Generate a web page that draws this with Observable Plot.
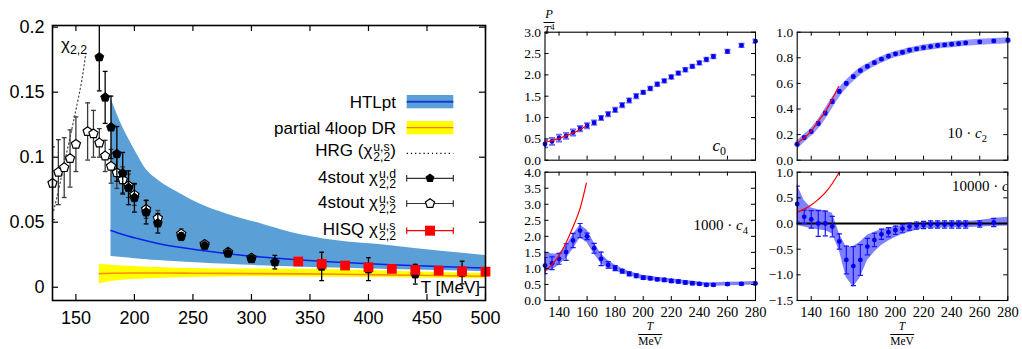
<!DOCTYPE html>
<html><head><meta charset="utf-8">
<script src="https://cdn.jsdelivr.net/npm/d3@7"></script>
<script src="https://cdn.jsdelivr.net/npm/@observablehq/plot@0.6"></script>
<style>
body{margin:0;background:#fff}
#wrap{position:relative;width:1022px;height:349px;overflow:hidden;background:#fff}
#wrap svg{position:absolute;overflow:visible}
.sans{font-family:"Liberation Sans",Arial,sans-serif;font-size:17px;color:#000}
.serif{font-family:"Liberation Serif","DejaVu Serif",serif;color:#000}
.abs{position:absolute;white-space:nowrap;line-height:1}
.lg{position:absolute;right:626px;white-space:nowrap;transform:translateY(-50%);line-height:1}
.st{display:inline-block;vertical-align:middle;font-size:0.72em;line-height:0.85;margin-left:1px;text-align:left}
.st span{display:block}
.frac{position:absolute;text-align:center;line-height:1;transform:translateX(-50%)}
.frac .den{border-top:0.8px solid #000;padding-top:1px;margin-top:1px}
</style></head><body><div id="wrap"></div>
<script>
// ---------------- Left panel data ----------------
const xTicksL = [150, 200, 250, 300, 350, 400, 450, 500];
const yTicksL = [0, 0.05, 0.1, 0.15, 0.2];

// 4stout chi_22^{u,d} (filled pentagons)
const udT = [170,175,180,185,190,195,200,210,220,240,260,280,300,320,360,400,440,480];
const udV = [0.177,0.146,0.123,0.1026,0.0877,0.0765,0.0688,0.0577,0.0492,0.039,0.032,0.026,0.0218,0.0193,0.016,0.0139,0.0100,0.0113];
const udE = [0.026,0.020,0.024,0.021,0.016,0.013,0.011,0.009,0.0075,0.003,0.002,0.002,0.002,0.0052,0.0109,0.0088,0.0076,0.0087];

// 4stout chi_22^{u,s} (open pentagons)
const usT = [130,135,140,145,150,160,165,170,175,180,185,190,195,200,210,220,240,260,280,300];
const usV = [0.080,0.0885,0.092,0.099,0.110,0.1198,0.118,0.111,0.101,0.093,0.088,0.0826,0.078,0.071,0.060,0.053,0.041,0.033,0.027,0.0225];
const usE = [0.028,0.025,0.023,0.022,0.021,0.022,0.018,0.011,0.012,0.013,0.012,0.010,0.009,0.008,0.007,0.006,0.004,0.002,0.002,0.002];

// HISQ chi_22^{u,s} (red squares)
const hisqT = [340,360,380,400,420,440,460,480,500];
const hisqV = [0.0198,0.018,0.0167,0.0154,0.0141,0.0133,0.0128,0.0123,0.012];

// HRG (dotted)
const hrgT = [131,136,140,144,148,152,155,158.5];
const hrgV = [0.059,0.078,0.095,0.111,0.128,0.145,0.159,0.18];

// HTLpt band
const htlT   = [180,190,200,211,220,240,256,280,308,333,370,419,460,500];
const htlLo  = [0.0236,0.0228,0.022,0.0212,0.0206,0.0195,0.0187,0.0177,0.0166,0.0157,0.0147,0.0136,0.0128,0.012];
const htlHi  = [0.145,0.123,0.106,0.0895,0.0825,0.0716,0.064,0.056,0.0488,0.0423,0.0361,0.032,0.0279,0.0244];
const htlMid = [0.0436,0.0405,0.038,0.0355,0.0337,0.0305,0.0284,0.0258,0.0233,0.0215,0.0194,0.0173,0.0159,0.0148];

// partial 4loop DR band
const drT   = [170,180,200,225,250,300,376,440,500];
const drLo  = [0.0026,0.0045,0.006,0.007,0.0075,0.008,0.0077,0.0072,0.0066];
const drHi  = [0.0175,0.017,0.016,0.015,0.0145,0.014,0.0134,0.0118,0.0105];
const drMid = [0.0105,0.0108,0.011,0.011,0.0108,0.0105,0.0100,0.0092,0.0085];

// ---------------- Right panels data ----------------
const xTicksR = [140,160,180,200,220,240,260,280];
const rT = [130,135,140,145,150,155,160,165,170,175,180,185,190,195,200,205,210,215,220,225,230,235,240,245,250,260,270,280];
const c0V = [0.38,0.44,0.52,0.57,0.65,0.74,0.81,0.88,0.99,1.08,1.18,1.29,1.40,1.50,1.59,1.68,1.78,1.86,1.95,2.04,2.12,2.20,2.28,2.36,2.43,2.55,2.69,2.79];
const c0E = [0.08,0.08,0.08,0.07,0.07,0.06,0.06,0.05,0.05,0.05,0.05,0.05,0.05,0.05,0.04,0.04,0.04,0.04,0.04,0.04,0.04,0.04,0.04,0.04,0.04,0.04,0.04,0.04];
const c2V = [0.125,0.177,0.224,0.287,0.368,0.459,0.538,0.60,0.653,0.70,0.733,0.762,0.789,0.812,0.831,0.843,0.859,0.87,0.88,0.888,0.896,0.901,0.906,0.911,0.917,0.925,0.932,0.937];
const c2E = [0.012,0.012,0.012,0.014,0.015,0.015,0.014,0.012,0.012,0.01,0.01,0.01,0.01,0.01,0.01,0.01,0.01,0.01,0.01,0.01,0.01,0.01,0.01,0.01,0.01,0.01,0.01,0.01];
const c4V = [1.09,1.16,1.30,1.51,1.87,2.18,2.00,1.63,1.30,1.11,1.01,0.915,0.83,0.77,0.71,0.69,0.66,0.64,0.61,0.59,0.56,0.54,0.52,0.49,0.49,0.51,0.52,0.53];
const c4E = [0.25,0.2,0.17,0.26,0.22,0.22,0.1,0.15,0.21,0.1,0.08,0.06,0.06,0.06,0.05,0.05,0.05,0.05,0.05,0.05,0.05,0.05,0.04,0.04,0.04,0.04,0.04,0.04];
const c4Lo = [0.9,0.95,1.1,1.3,1.6,1.95,1.8,1.45,1.15,1.0,0.93,0.85,0.77,0.71,0.65,0.63,0.6,0.58,0.55,0.53,0.51,0.49,0.47,0.45,0.44,0.46,0.47,0.48];
const c4Hi = [1.52,1.45,1.45,1.7,2.05,2.35,2.2,1.8,1.45,1.25,1.1,1.0,0.9,0.84,0.78,0.76,0.72,0.7,0.67,0.65,0.62,0.6,0.58,0.55,0.55,0.57,0.58,0.59];
const c6V = [0.38,0.13,0.08,0.0,0.0,-0.06,-0.35,-0.71,-0.83,-0.71,-0.45,-0.32,-0.21,-0.17,-0.13,-0.10,-0.06,-0.04,-0.03,-0.02,-0.02,-0.02,-0.02,-0.02,-0.02,-0.01,0.02,null];
const c6E = [0.35,0.13,0.17,0.25,0.24,0.2,0.15,0.27,0.38,0.3,0.16,0.13,0.1,0.09,0.08,0.08,0.07,0.07,0.07,0.07,0.07,0.07,0.07,0.07,0.07,0.06,0.08,null];
const c6Lo = [-0.04,-0.07,-0.1,-0.12,-0.14,-0.2,-0.53,-1.05,-1.24,-1.05,-0.72,-0.56,-0.43,-0.34,-0.27,-0.21,-0.17,-0.13,-0.1,-0.09,-0.09,-0.08,-0.08,-0.08,-0.08,-0.07,-0.06,-0.05];
const c6Hi = [0.75,0.45,0.3,0.27,0.25,0.2,-0.2,-0.46,-0.45,-0.36,-0.23,-0.17,-0.12,-0.09,-0.06,-0.04,-0.02,0.0,0.02,0.03,0.03,0.03,0.03,0.04,0.04,0.06,0.1,0.12];
const redT  = [130,135,140,145,150,155,159.5];
const c0Red = [0.42,0.46,0.51,0.57,0.64,0.72,0.81];
const c2Red = [0.135,0.175,0.228,0.305,0.38,0.478,0.575];
const c4Red = [0.93,1.12,1.4,1.8,2.3,2.87,3.66];
const c6Red = [0.22,0.28,0.36,0.47,0.6,0.78,0.98];

// ---------------- helpers ----------------
const wrap = document.getElementById("wrap");
const pentagon = {draw(ctx, size){
  const R = Math.sqrt(size/Math.PI);
  for (let k=0;k<5;k++){ const a = -Math.PI/2 + k*2*Math.PI/5;
    const px = R*Math.cos(a), py = R*Math.sin(a);
    k ? ctx.lineTo(px,py) : ctx.moveTo(px,py); }
  ctx.closePath();
}};
const cap = {draw(ctx, size){ const w = Math.sqrt(size/Math.PI); ctx.moveTo(-w,0); ctx.lineTo(w,0); }};
const rows = (T, V, E) => T.map((t,i)=>({T:t, v:V[i], e:E ? E[i] : 0})).filter(d=>d.v!=null);
function errMarks(data, stroke, sw, capR, extra={}) {
  return [
    Plot.ruleX(data, {x:"T", y1:d=>d.v-d.e, y2:d=>d.v+d.e, stroke, strokeWidth:sw, clip:true, ...extra}),
    Plot.dot(data, {x:"T", y:d=>d.v-d.e, symbol:cap, r:capR, fill:"none", stroke, strokeWidth:sw, clip:true, ...extra}),
    Plot.dot(data, {x:"T", y:d=>d.v+d.e, symbol:cap, r:capR, fill:"none", stroke, strokeWidth:sw, clip:true, ...extra})
  ];
}
function inTicks(xt, yt, FW, FH, len, sw) {
  return [
    Plot.tickX(xt, {x:d=>d, insetTop:FH-len, stroke:"#000", strokeWidth:sw}),
    Plot.tickX(xt, {x:d=>d, insetBottom:FH-len, stroke:"#000", strokeWidth:sw}),
    Plot.tickY(yt, {y:d=>d, insetRight:FW-len, stroke:"#000", strokeWidth:sw}),
    Plot.tickY(yt, {y:d=>d, insetLeft:FW-len, stroke:"#000", strokeWidth:sw})
  ];
}
function place(svg, left, top){ svg.style.left = left+"px"; svg.style.top = top+"px"; wrap.appendChild(svg); }

// ---------------- Left chart ----------------
{
  const W=500, H=349, ml=52, mr=15, mt=25, mb=49, FW=W-ml-mr, FH=H-mt-mb;
  const htl = htlT.map((t,i)=>({T:t, lo:htlLo[i], hi:htlHi[i], mid:htlMid[i]}));
  const dr = drT.map((t,i)=>({T:t, lo:drLo[i], hi:drHi[i], mid:drMid[i]}));
  const hrg = rows(hrgT, hrgV);
  const ud = rows(udT, udV, udE);
  const us = rows(usT, usV, usE);
  const hisq = rows(hisqT, hisqV);
  const svg = Plot.plot({
    width:W, height:H, marginLeft:ml, marginRight:mr, marginTop:mt, marginBottom:mb,
    x:{domain:[130,500], axis:null},
    y:{domain:[-0.0102,0.2013], axis:null},
    style:{fontFamily:'"Liberation Sans",Arial,sans-serif', fontSize:"18px", background:"transparent", color:"#000"},
    marks:[
      Plot.areaY(dr, {x:"T", y1:"lo", y2:"hi", fill:"#ffff00", curve:"monotone-x"}),
      Plot.line(dr, {x:"T", y:"mid", stroke:"#ff8c00", strokeWidth:1.6, curve:"monotone-x"}),
      Plot.areaY(htl, {x:"T", y1:"lo", y2:"hi", fill:"#5aa0d6", curve:"monotone-x"}),
      Plot.line(htl, {x:"T", y:"mid", stroke:"#0a22ea", strokeWidth:1.6, curve:"monotone-x"}),
      Plot.line(hrg, {x:"T", y:"v", stroke:"#555", strokeWidth:1.3, strokeDasharray:"1.2,2.8", curve:"monotone-x"}),
      ...errMarks(us, "#3a3a3a", 1.3, 2.4),
      Plot.dot(us, {x:"T", y:"v", symbol:pentagon, r:4.8, fill:"#fff", stroke:"#000", strokeWidth:1.2}),
      ...errMarks(ud, "#000", 1.3, 2.4),
      Plot.dot(ud, {x:"T", y:"v", symbol:pentagon, r:4.7, fill:"#000", stroke:"#000", strokeWidth:0.8}),
      Plot.dot(hisq, {x:"T", y:"v", symbol:"square", r:5.5, fill:"#ff0000", stroke:"none"}),
      Plot.frame({stroke:"#000", strokeWidth:1.6}),
      ...inTicks(xTicksL, yTicksL, FW, FH, 6, 1.2),
      Plot.axisX(xTicksL, {tickSize:0, tickPadding:10.5, label:null, fontSize:18, stroke:"#000", strokeWidth:0.35}),
      Plot.axisY(yTicksL, {tickSize:0, tickPadding:8, label:null, fontSize:18, tickFormat:d=>String(d), stroke:"#000", strokeWidth:0.35})
    ]
  });
  place(svg, 0, 0);
}

// ---------------- Right panels ----------------
function panel(o) {
  const FW = o.width-o.ml-o.mr, FH = o.height-o.mt-o.mb;
  const pts = rows(rT, o.v, o.e);
  const red = rows(redT, o.red);
  const marks = [];
  if (o.lo) {
    const band = rT.map((t,i)=>({T:t, lo:o.lo[i], hi:o.hi[i]}));
    marks.push(Plot.areaY(band, {x:"T", y1:"lo", y2:"hi", fill:"#0000ff", fillOpacity:0.5}));
  }
  if (o.thick) marks.push(Plot.line(pts, {x:"T", y:"v", stroke:"#6f6fff", strokeOpacity:0.75, strokeWidth:6}));
  if (o.zero) marks.push(Plot.ruleY([0], {stroke:"#000", strokeWidth:2}));
  marks.push(...errMarks(pts, o.errColor, o.errW, o.capR));
  marks.push(Plot.dot(pts, {x:"T", y:"v", r:2.4, fill:"#0000ee", stroke:"none"}));
  marks.push(Plot.line(red, {x:"T", y:"v", stroke:"#ff0000", strokeWidth:1.2, curve:"monotone-x", clip:true}));
  marks.push(Plot.frame({stroke:"#000", strokeWidth:1.1}));
  marks.push(...inTicks(xTicksR, o.yTicks, FW, FH, 4, 1));
  if (o.showX) marks.push(Plot.axisX(xTicksR, {tickSize:0, tickPadding:6, label:null, fontSize:14.5}));
  marks.push(Plot.axisY(o.yTicks, {tickSize:0, tickPadding:4, label:null, fontSize:13.5, tickFormat:d3.format(".1f")}));
  const svg = Plot.plot({
    width:o.width, height:o.height, marginLeft:o.ml, marginRight:o.mr, marginTop:o.mt, marginBottom:o.mb,
    x:{domain:[130,280], axis:null},
    y:{domain:o.yDomain, axis:null},
    style:{fontFamily:'"Liberation Serif","DejaVu Serif",serif', fontSize:"14px", background:"transparent", color:"#000"},
    marks
  });
  place(svg, o.left, o.top);
}
panel({left:500, top:0, width:260, height:170, ml:44.5, mr:5, mt:31.7, mb:10.3,
  yDomain:[0,3], yTicks:[0,0.5,1,1.5,2,2.5,3], v:c0V, e:c0E, red:c0Red,
  errColor:"#6a6aff", errW:1.9, capR:3, showX:false});
panel({left:760, top:0, width:262, height:170, ml:36.7, mr:14.7, mt:31.7, mb:10.3,
  yDomain:[0,1], yTicks:[0,0.2,0.4,0.6,0.8,1], v:c2V, e:c2E, red:c2Red, thick:true,
  errColor:"#2020ff", errW:1.1, capR:2, showX:false});
panel({left:500, top:165, width:260, height:184, ml:44.5, mr:5, mt:6.7, mb:49,
  yDomain:[0,4], yTicks:[0,0.5,1,1.5,2,2.5,3,3.5,4], v:c4V, e:c4E, lo:c4Lo, hi:c4Hi, red:c4Red,
  errColor:"#1515ff", errW:1.2, capR:2.6, showX:true});
panel({left:760, top:165, width:262, height:184, ml:36.7, mr:14.7, mt:6.7, mb:49,
  yDomain:[-1.5,1], yTicks:[-1.5,-1,-0.5,0,0.5,1], v:c6V, e:c6E, lo:c6Lo, hi:c6Hi, red:c6Red, zero:true,
  errColor:"#1515ff", errW:1.2, capR:2.6, showX:true});

// ---------------- Text overlays & legend ----------------
function pentPath(R){ let s=""; for(let k=0;k<5;k++){const a=-Math.PI/2+k*2*Math.PI/5; s+=(k?"L":"M")+(R*Math.cos(a)).toFixed(2)+","+(R*Math.sin(a)).toFixed(2);} return s+"Z"; }
const chi = (sup) => `χ<span class="st"><span>${sup}</span><span>2,2</span></span>`;
const html = `
<div class="abs sans" style="left:61px;top:36px;font-size:17px">χ<span style="font-size:0.72em;vertical-align:-0.3em">2,2</span></div>
<div class="abs sans" style="right:542px;top:279px;font-size:17px">T [MeV]</div>
<div class="lg sans" style="top:101.7px">HTLpt</div>
<div class="lg sans" style="top:127.7px">partial 4loop DR</div>
<div class="lg sans" style="top:152px">HRG (${chi("u,s")})</div>
<div class="lg sans" style="top:178.5px">4stout ${chi("u,d")}</div>
<div class="lg sans" style="top:204px">4stout ${chi("u,s")}</div>
<div class="lg sans" style="top:230.5px">HISQ ${chi("u,s")}</div>
<svg style="left:400px;top:90px" width="60" height="150" viewBox="400 90 60 150">
  <rect x="406.7" y="95" width="46.6" height="13.3" fill="#5aa0d6"/>
  <line x1="406.7" x2="453.3" y1="101.7" y2="101.7" stroke="#1a3ad8" stroke-width="2"/>
  <rect x="406.7" y="121" width="46.6" height="13.3" fill="#ffff00"/>
  <line x1="406.7" x2="453.3" y1="127.7" y2="127.7" stroke="#ff5a00" stroke-width="1"/>
  <line x1="406.7" x2="453.3" y1="153.3" y2="153.3" stroke="#000" stroke-width="1.2" stroke-dasharray="1.2,3"/>
  <g stroke="#333" stroke-width="1.2"><line x1="406.7" x2="453.3" y1="178.3" y2="178.3"/><line x1="406.7" x2="406.7" y1="175" y2="181.6"/><line x1="453.3" x2="453.3" y1="175" y2="181.6"/></g>
  <path transform="translate(430,178.3)" d="${pentPath(4.7)}" fill="#000"/>
  <g stroke="#333" stroke-width="1.2"><line x1="406.7" x2="453.3" y1="203.5" y2="203.5"/><line x1="406.7" x2="406.7" y1="200.2" y2="206.8"/><line x1="453.3" x2="453.3" y1="200.2" y2="206.8"/></g>
  <path transform="translate(430,203.5)" d="${pentPath(4.8)}" fill="#fff" stroke="#000" stroke-width="1.2"/>
  <g stroke="#ff0000" stroke-width="1.2"><line x1="406.7" x2="453.3" y1="230.7" y2="230.7"/><line x1="406.7" x2="406.7" y1="227.4" y2="234"/><line x1="453.3" x2="453.3" y1="227.4" y2="234"/></g>
  <rect x="425" y="225.7" width="10" height="10" fill="#ff0000"/>
</svg>
<div class="frac serif" style="left:549px;top:8px;font-size:12.5px"><i>P</i><div class="den"><i>T</i><span style="font-size:0.65em;position:relative;top:-0.45em">4</span></div></div>
<div class="frac serif" style="left:650px;top:321px;font-size:11.5px"><i>T</i><div class="den">MeV</div></div>
<div class="frac serif" style="left:902px;top:321px;font-size:11.5px"><i>T</i><div class="den">MeV</div></div>
<div class="abs serif" style="right:296px;top:137px;font-size:17px"><i>c</i><sub style="font-size:0.7em">0</sub></div>
<div class="abs serif" style="right:35px;top:126px;font-size:15px">10 · <i>c</i><sub style="font-size:0.7em">2</sub></div>
<div class="abs serif" style="right:274px;top:218px;font-size:15px">1000 · <i>c</i><sub style="font-size:0.7em">4</sub></div>
<div class="abs" style="left:940px;top:172px;width:67px;height:30px;overflow:hidden"><div class="abs serif" style="left:12px;top:7px;font-size:15px">10000 · <i>c</i><sub style="font-size:0.7em">6</sub></div></div>
`;
wrap.insertAdjacentHTML("beforeend", html);
</script></body></html>
